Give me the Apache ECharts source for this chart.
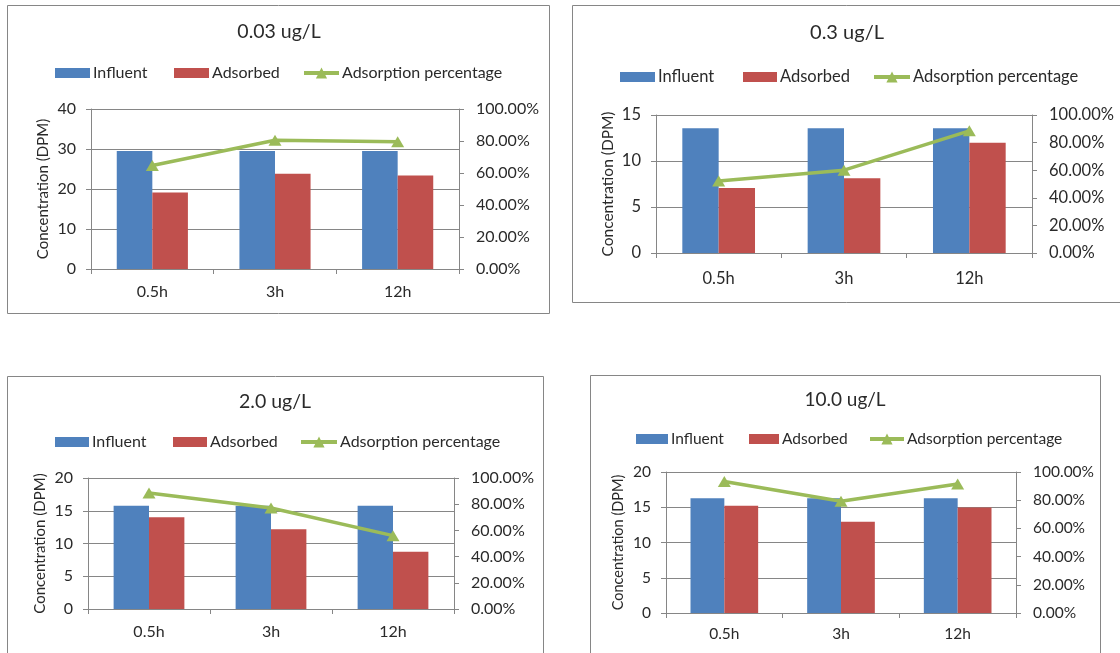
<!DOCTYPE html>
<html>
<head>
<meta charset="utf-8">
<script src="https://cdn.jsdelivr.net/npm/echarts@6/dist/echarts.min.js"></script>
<style>
html,body{margin:0;padding:0;background:#fff;}
#chart{width:1120px;height:653px;}
</style>
</head>
<body>
<div id="chart"></div>
<script>
// ---- data ----
const categories = ['0.5h', '3h', '12h'];
const panelTitles = ['0.03 ug/L', '0.3 ug/L', '2.0 ug/L', '10.0 ug/L'];
const seriesNames = ['Influent', 'Adsorbed', 'Adsorption percentage'];

const influent_003 = [29.5, 29.5, 29.5];
const adsorbed_003 = [19.1, 23.8, 23.4];
const percent_003 = [64.7, 80.5, 79.5];

const influent_03 = [13.55, 13.55, 13.55];
const adsorbed_03 = [7.07, 8.12, 11.99];
const percent_03 = [52.2, 60.0, 88.5];

const influent_20 = [15.77, 15.77, 15.77];
const adsorbed_20 = [14.0, 12.17, 8.75];
const percent_20 = [88.6, 77.1, 56.0];

const influent_100 = [16.28, 16.28, 16.28];
const adsorbed_100 = [15.2, 12.94, 14.96];
const percent_100 = [93.2, 79.2, 91.5];

const leftMax = [40, 15, 20, 20];
const leftInterval = [10, 5, 5, 5];
const rightMax = 100;
const rightInterval = 20;

const influentAll = [influent_003, influent_03, influent_20, influent_100];
const adsorbedAll = [adsorbed_003, adsorbed_03, adsorbed_20, adsorbed_100];
const percentAll = [percent_003, percent_03, percent_20, percent_100];

// ---- layout (positions / styles) ----
const layout = [
  { grid:{left:91, top:109, width:368, height:160}, titleX:279, titleY:32, legendY:73,
    legendX:[55,174,302], iconW:[35,35,35], labelMargin:15, fs:16,
    border:[7.5,5.5,542,308] },
  { grid:{left:656, top:115, width:376, height:138}, titleX:847, titleY:33, legendY:77,
    legendX:[620,743,872], iconW:[35,34,36], labelMargin:17, fs:16.5,
    border:[572.5,5.5,560,297] },
  { grid:{left:88, top:478, width:366, height:131}, titleX:275, titleY:402, legendY:442,
    legendX:[55,173,299], iconW:[34,34,36], labelMargin:15, fs:16,
    border:[7.5,376.5,536,300] },
  { grid:{left:666, top:472, width:350, height:141}, titleX:845, titleY:400, legendY:439,
    legendX:[636,749,868], iconW:[32,30,34], labelMargin:13, fs:15.5,
    border:[590.5,375.5,510,300] }
];

const FONT = 'Lato';
const TXT = '#2a2a2a';
const AX = '#868686';
const C_BLUE = '#4F81BD', C_RED = '#C0504D', C_GREEN = '#9BBB59';

const option = {
  animation:false,
  backgroundColor:'#ffffff',
  textStyle:{fontFamily:FONT},
  title:[], legend:[], grid:[], xAxis:[], yAxis:[], series:[], graphic:[]
};

layout.forEach((L, i) => {
  const fs = L.fs;
  option.graphic.push({
    type:'rect', silent:true, z:-1,
    shape:{x:L.border[0], y:L.border[1], width:L.border[2], height:L.border[3]},
    style:{fill:'none', stroke:AX, lineWidth:1}
  });
  option.title.push({
    text:panelTitles[i], left:L.titleX, top:L.titleY - 11, textAlign:'center', padding:0,
    textStyle:{fontFamily:FONT, fontSize:fs + 3.5, fontWeight:'normal', color:TXT, lineHeight:22}
  });
  seriesNames.forEach((nm, k) => {
    const isLine = k === 2;
    const leg = {
      data:[nm], left:L.legendX[k], top:L.legendY - 9, padding:0,
      itemWidth:L.iconW[k], itemHeight:isLine ? 14 : 10, itemGap:0,
      selectedMode:false,
      textStyle:{fontFamily:FONT, fontSize:fs, color:TXT, lineHeight:18, padding:[0,0,0,-2]}
    };
    if (!isLine) {
      leg.icon = 'rect';
    } else {
      leg.lineStyle = {width:4, color:C_GREEN};
      leg.itemStyle = {color:C_GREEN};
    }
    option.legend.push(leg);
  });
  option.grid.push(Object.assign({containLabel:false}, L.grid));
  option.xAxis.push({
    type:'category', gridIndex:i, data:categories,
    axisLine:{show:true, lineStyle:{color:AX, width:1}},
    axisTick:{show:true, length:5, lineStyle:{color:AX}},
    axisLabel:{fontFamily:FONT, fontSize:fs, color:TXT, margin:L.labelMargin}
  });
  option.yAxis.push({
    type:'value', gridIndex:i, position:'left', min:0, max:leftMax[i], interval:leftInterval[i],
    name:'Concentration (DPM)', nameLocation:'middle', nameGap:40, nameRotate:90,
    nameTextStyle:{fontFamily:FONT, fontSize:fs - 1, color:TXT},
    axisLine:{show:true, lineStyle:{color:AX, width:1}},
    axisTick:{show:true, length:5, lineStyle:{color:AX}},
    splitLine:{show:true, lineStyle:{color:AX, width:1}},
    axisLabel:{fontFamily:FONT, fontSize:fs, color:TXT, margin:15}
  });
  option.yAxis.push({
    type:'value', gridIndex:i, position:'right', min:0, max:rightMax, interval:rightInterval,
    axisLine:{show:true, lineStyle:{color:AX, width:1}},
    axisTick:{show:true, length:5, lineStyle:{color:AX}},
    splitLine:{show:false},
    axisLabel:{fontFamily:FONT, fontSize:fs, color:TXT, margin:17,
      formatter:v => v.toFixed(2) + '%'}
  });
  option.series.push({
    name:seriesNames[0], type:'bar', xAxisIndex:i, yAxisIndex:2*i, data:influentAll[i],
    barGap:'0%', barCategoryGap:'42%', itemStyle:{color:C_BLUE}
  });
  option.series.push({
    name:seriesNames[1], type:'bar', xAxisIndex:i, yAxisIndex:2*i, data:adsorbedAll[i],
    barGap:'0%', barCategoryGap:'42%', itemStyle:{color:C_RED}
  });
  option.series.push({
    name:seriesNames[2], type:'line', xAxisIndex:i, yAxisIndex:2*i+1, data:percentAll[i],
    symbol:'triangle', symbolSize:[13,11], z:5,
    lineStyle:{color:C_GREEN, width:3.5}, itemStyle:{color:C_GREEN}
  });
});

const chart = echarts.init(document.getElementById('chart'), null, {renderer:'canvas'});
chart.setOption(option);
</script>
</body>
</html>
